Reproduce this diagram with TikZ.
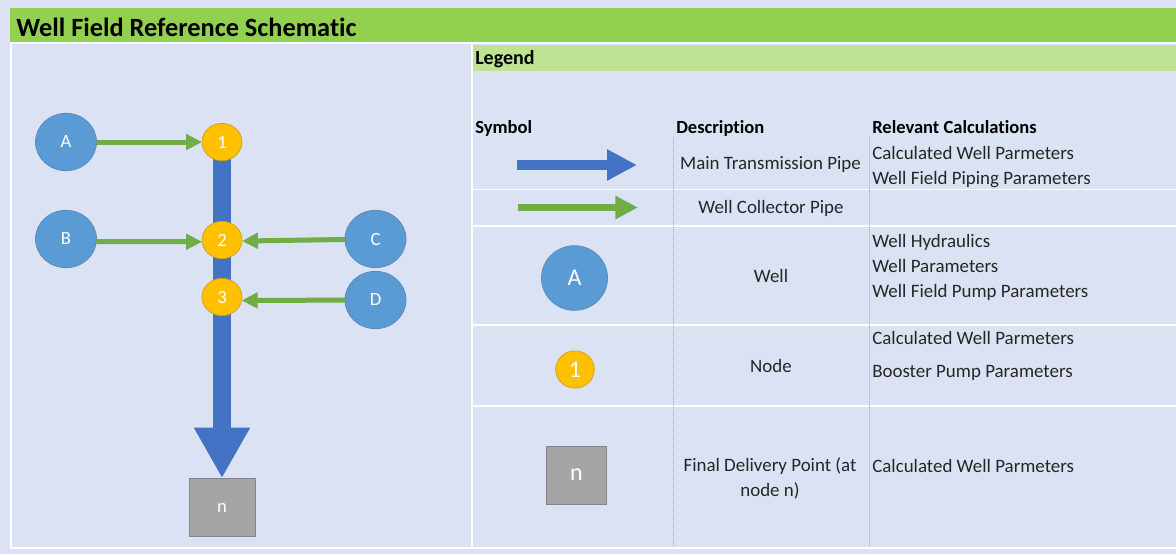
\documentclass[tikz,border=0pt]{standalone}
\usepackage{fontspec}
\setmainfont{Carlito}[Ligatures=NoCommon]
\usetikzlibrary{shapes.geometric,arrows.meta,backgrounds}
\definecolor{panel}{HTML}{DAE2F3}
\definecolor{titlebar}{HTML}{92D050}
\definecolor{legendbar}{HTML}{BDE393}
\definecolor{mainpipe}{HTML}{4472C4}
\definecolor{collector}{HTML}{70AD47}
\definecolor{wellblue}{HTML}{5B9BD5}
\definecolor{wellline}{HTML}{5A8DBB}
\definecolor{nodeyellow}{HTML}{FFC000}
\definecolor{nodeline}{HTML}{D0A010}
\definecolor{endgrey}{HTML}{A5A5A5}
\definecolor{endline}{HTML}{858585}
\begin{document}
\begin{tikzpicture}[x=0.75pt,y=-0.75pt]
   \tikzstyle{well}=[ellipse,draw=wellline,fill=wellblue,text=white,inner sep=0pt,outer sep=0pt,line width=.6pt,font=\fontsize{14}{14}\selectfont,minimum width=45.75pt,minimum height=43pt]
   \tikzstyle{junction}=[ellipse,draw=nodeline,fill=nodeyellow,text=white,inner sep=0pt,outer sep=0pt,line width=.5pt,font=\fontsize{14}{14}\selectfont,minimum width=30pt,minimum height=28pt]
   \tikzstyle{delivery}=[rectangle,draw=endline,fill=endgrey,text=white,inner sep=0pt,outer sep=0pt,line width=.7pt,font=\fontsize{14}{14}\selectfont,minimum width=49.5pt,minimum height=44pt]
   \tikzstyle{cell}=[inner sep=0pt,yshift=-.3pt,font=\fontsize{14.2}{14.2}\selectfont,text=black!85]
   \tikzstyle{head}=[cell,anchor=mid west,yshift=-2.2pt,font=\fontsize{13.9}{13.9}\selectfont\bfseries,text=black]
   \tikzstyle{calc}=[cell,anchor=mid west,yshift=-2pt]
   \tikzstyle{pipe}=[draw=collector,line width=3.75pt,-{Triangle[length=12pt,width=11.5pt]}]
   \tikzstyle{trunk}=[draw=mainpipe,line width=14pt,-{Triangle[length=38pt,width=39.5pt]}]

\useasboundingbox (0,0) rectangle (1176,554);

\node[well] (A) at (66,142) {A};
\node[well] (B) at (66,239) {B};
\node[well] (C) at (375.5,239) {C};
\node[well] (D) at (375.5,300) {D};
\node[junction] (one) at (222,142) {1};
\node[junction] (two) at (222,240) {2};
\node[junction] (three) at (222,297) {3};
\node[delivery] (end) at (222,507.5) {n};

\begin{scope}[on background layer]
\fill[panel] (0,0) rectangle (1176,554);
\fill[white] (10,42) rectangle (1176,549);
\fill[titlebar] (10,8) rectangle (1176,42);
\fill[panel] (12,44) rectangle (471,546.5);
\fill[panel] (473,44) rectangle (1176,546.5);
\fill[legendbar] (473,44.5) rectangle (1176,70.5);
\foreach \y in {189.5,226,325,406}
   \draw[white,line width=1pt] (473,\y) -- (1176,\y);
\foreach \x in {673,869}
   \draw[gray!70,line width=.5pt,densely dotted] (\x,137) -- (\x,546.5);
\path (one.center) edge[trunk] (end.north);
\end{scope}

\path
(A) edge[pipe] (one)
(B.-5) edge[pipe] (two.185)
(C) edge[pipe] (two.-3)
(D) edge[pipe] (three.-10);

\node[anchor=mid west,inner sep=0pt,yshift=-4pt,font=\fontsize{19.75}{19.75}\selectfont\bfseries] (title) at (16,28) {Well Field Reference Schematic};
\node[head,yshift=1pt,font=\fontsize{15}{15}\selectfont\bfseries] (legend) at (475,59.5) {Legend};
\node[head] (symbol) at (475,127) {Symbol};
\node[head] (description) at (676,127) {Description};
\node[head] (relevant) at (872,127) {Relevant Calculations};

\coordinate (mainstart) at (516.5,165);
\coordinate (mainend) at (637,165);
\coordinate (pipestart) at (518,207.5);
\coordinate (pipeend) at (638,207.5);
\path
(mainstart) edge[draw=mainpipe,line width=7.5pt,-{Triangle[length=22.5pt,width=22pt]}] (mainend)
(pipestart) edge[draw=collector,line width=5.6pt,-{Triangle[length=17pt,width=16.5pt]}] (pipeend);

\node[well,minimum width=49.5pt,minimum height=48.5pt,font=\fontsize{18}{18}\selectfont] (wellkey) at (574.5,278) {A};
\node[junction,minimum width=29pt,minimum height=28pt,font=\fontsize{18}{18}\selectfont] (nodekey) at (575,369.5) {1};
\node[delivery,minimum width=45pt,minimum height=43.5pt,font=\fontsize{18}{18}\selectfont] (endkey) at (576.5,475) {n};

\node[cell] (maintext) at (770.5,164) {Main Transmission Pipe};
\node[cell] (pipetext) at (771,208) {Well Collector Pipe};
\node[cell] (welltext) at (771,276) {Well};
\node[cell] (nodetext) at (771,366) {Node};
\node[cell] (endtext) at (770,466) {Final Delivery Point (at};
\node[cell] (endtexttwo) at (770,490) {node n)};

\node[calc] (calcone) at (872,153) {Calculated Well Parmeters};
\node[calc] (calctwo) at (872,178) {Well Field Piping Parameters};
\node[calc] (calcthree) at (872,241) {Well Hydraulics};
\node[calc] (calcfour) at (872,266) {Well Parameters};
\node[calc] (calcfive) at (872,291) {Well Field Pump Parameters};
\node[calc] (calcsix) at (872,338) {Calculated Well Parmeters};
\node[calc] (calcseven) at (872,371) {Booster Pump Parameters};
\node[calc] (calceight) at (872,466) {Calculated Well Parmeters};

\end{tikzpicture}
\end{document}
